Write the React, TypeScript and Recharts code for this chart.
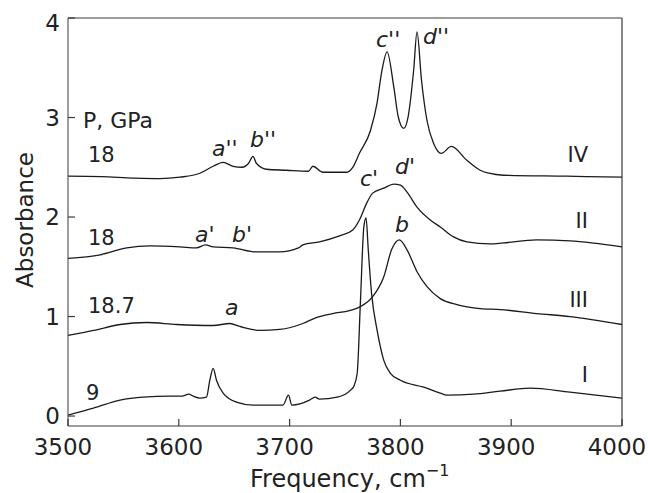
import React from "react";
import {
  LineChart,
  Line,
  XAxis,
  YAxis,
  ReferenceLine,
  Customized
} from "recharts";

// spectrum I (9 GPa)
const freqI = [3500, 3523, 3547, 3568, 3592, 3603, 3609, 3613, 3619, 3625, 3628, 3631, 3634, 3640, 3652, 3667, 3694, 3699, 3702, 3718, 3723, 3727, 3743, 3755, 3758, 3761, 3764, 3767, 3769, 3771, 3774, 3779, 3785, 3791, 3800, 3821, 3836, 3842, 3866, 3890, 3917, 3953, 4000];
const absI = [0.01, 0.08, 0.16, 0.19, 0.2, 0.2, 0.22, 0.2, 0.18, 0.19, 0.36, 0.48, 0.36, 0.23, 0.14, 0.11, 0.11, 0.21, 0.11, 0.16, 0.19, 0.17, 0.19, 0.26, 0.3, 0.43, 1.17, 1.9, 1.99, 1.67, 1.23, 0.86, 0.56, 0.43, 0.36, 0.29, 0.23, 0.21, 0.22, 0.25, 0.28, 0.24, 0.18];

// spectrum III (18.7 GPa)
const freqIII = [3500, 3523, 3547, 3571, 3598, 3631, 3646, 3655, 3673, 3691, 3712, 3724, 3739, 3754, 3764, 3775, 3785, 3792, 3799, 3806, 3815, 3824, 3836, 3851, 3872, 3890, 3923, 3953, 4000];
const absIII = [0.81, 0.86, 0.92, 0.94, 0.92, 0.91, 0.93, 0.9, 0.86, 0.87, 0.93, 0.99, 1.03, 1.06, 1.1, 1.2, 1.4, 1.67, 1.77, 1.67, 1.45, 1.3, 1.18, 1.12, 1.08, 1.07, 1.03, 1.0, 0.92];

// spectrum II (18 GPa)
const freqII = [3500, 3529, 3553, 3574, 3601, 3616, 3624, 3631, 3649, 3670, 3691, 3708, 3712, 3727, 3745, 3757, 3763, 3770, 3775, 3785, 3794, 3800, 3806, 3815, 3827, 3836, 3848, 3860, 3881, 3893, 3923, 3953, 4000];
const absII = [1.585, 1.62, 1.69, 1.71, 1.7, 1.69, 1.72, 1.7, 1.69, 1.65, 1.65, 1.69, 1.72, 1.75, 1.81, 1.87, 1.97, 2.15, 2.24, 2.29, 2.33, 2.32, 2.25, 2.1, 1.97, 1.9, 1.8, 1.75, 1.73, 1.74, 1.77, 1.76, 1.7];

// spectrum IV (18 GPa)
const freqIV = [3500, 3530, 3560, 3583, 3601, 3619, 3631, 3640, 3649, 3657, 3663, 3667, 3670, 3679, 3697, 3717, 3721, 3730, 3745, 3751, 3757, 3763, 3773, 3779, 3783, 3788, 3794, 3798, 3803, 3807, 3812, 3815, 3819, 3824, 3830, 3837, 3846, 3860, 3872, 3880, 3893, 3950, 4000];
const absIV = [2.41, 2.405, 2.39, 2.385, 2.4, 2.44, 2.51, 2.55, 2.51, 2.5, 2.54, 2.61, 2.54, 2.48, 2.47, 2.46, 2.51, 2.45, 2.45, 2.45, 2.5, 2.64, 2.87, 3.15, 3.45, 3.66, 3.31, 3.01, 2.89, 3.01, 3.48, 3.86, 3.38, 2.97, 2.74, 2.64, 2.71, 2.57, 2.47, 2.44, 2.42, 2.41, 2.4];

const xTicks = [3500, 3600, 3700, 3800, 3900, 4000];
const yTicks = [0, 1, 2, 3, 4];

const toRows = (f: number[], a: number[]) => f.map((x, i) => ({ f: x, v: a[i] }));

const spectra = [
  { name: "I", rows: toRows(freqI, absI) },
  { name: "III", rows: toRows(freqIII, absIII) },
  { name: "II", rows: toRows(freqII, absII) },
  { name: "IV", rows: toRows(freqIV, absIV) }
];

const FONT = "DejaVu Sans";
const INK = "#222";
const AXIS = "#3a3a3a";

const XTick = (props: any) => {
  const { x, y, payload } = props;
  return (
    <g>
      <line x1={x} y1={y} x2={x} y2={y - 7} stroke={AXIS} strokeWidth={1.2} />
      <text x={x - 5} y={y + 29} textAnchor="middle" fontSize={23} fontFamily={FONT} fill={INK}>
        {payload.value}
      </text>
    </g>
  );
};

const YTick = (props: any) => {
  const { x, y, payload } = props;
  const dy = payload.value === 4 ? 13 : 8;
  return (
    <g>
      <line x1={x} y1={y} x2={x + 7} y2={y} stroke={AXIS} strokeWidth={1.2} />
      <text x={60} y={y + dy} textAnchor="end" fontSize={23} fontFamily={FONT} fill={INK}>
        {payload.value}
      </text>
    </g>
  );
};

const T = ({ x, y, children, size = 21, italic = false, anchor = "start" }: any) => (
  <text
    x={x}
    y={y}
    fontSize={size}
    fontStyle={italic ? "italic" : "normal"}
    textAnchor={anchor}
    fontFamily={FONT}
    fill={INK}
  >
    {children}
  </text>
);

const Notes = () => (
  <g>
    <T x={83} y={128} size={22}>P, GPa</T>
    <T x={88} y={162}>18</T>
    <T x={88} y={245}>18</T>
    <T x={88} y={313}>18.7</T>
    <T x={86} y={400}>9</T>

    <T x={212} y={156} size={22} italic>a''</T>
    <T x={250} y={147} size={22} italic>b''</T>
    <T x={376} y={47} size={22} italic>c''</T>
    <T x={423} y={44} size={22} italic>d''</T>
    <T x={360} y={186} size={22} italic>c'</T>
    <T x={395} y={174} size={22} italic>d'</T>
    <T x={195} y={242} size={22} italic>a'</T>
    <T x={232} y={242} size={22} italic>b'</T>
    <T x={225} y={315} size={22} italic>a</T>
    <T x={395} y={232} size={22} italic>b</T>

    <T x={588} y={162} anchor="end">IV</T>
    <T x={588} y={228} anchor="end">II</T>
    <T x={588} y={307} anchor="end">III</T>
    <T x={588} y={382} anchor="end">I</T>

    <text x={250} y={487} fontSize={24} fontFamily={FONT} fill={INK}>
      Frequency, cm
      <tspan dy={-11} fontSize={16}>−1</tspan>
    </text>
    <text
      transform="translate(33,220) rotate(-90)"
      textAnchor="middle"
      fontSize={23}
      fontFamily={FONT}
      fill={INK}
    >
      Absorbance
    </text>
  </g>
);

export default function App() {
  return (
    <div style={{ position: "absolute", left: 0, top: 0, background: "#fff" }}>
      <LineChart width={648} height={493} margin={{ top: 18, right: 26, bottom: 0, left: 8 }}>
        <XAxis
          dataKey="f"
          type="number"
          domain={[3500, 4000]}
          ticks={xTicks}
          allowDataOverflow
          height={67}
          stroke={AXIS}
          tickSize={0}
          tickMargin={0}
          tickLine={false}
          tick={<XTick />}
        />
        <YAxis
          type="number"
          domain={[-0.1, 4]}
          ticks={yTicks}
          allowDataOverflow
          width={60}
          stroke={AXIS}
          tickSize={0}
          tickMargin={0}
          tickLine={false}
          tick={<YTick />}
        />
        <ReferenceLine y={4} stroke={AXIS} strokeWidth={1.2} />
        <ReferenceLine x={4000} stroke={AXIS} strokeWidth={1.2} />
        {spectra.map((s) => (
          <Line
            key={s.name}
            data={s.rows}
            dataKey="v"
            type="monotone"
            stroke="#1a1a1a"
            strokeWidth={1.3}
            dot={false}
            isAnimationActive={false}
          />
        ))}
        <Customized component={Notes} />
      </LineChart>
    </div>
  );
}
